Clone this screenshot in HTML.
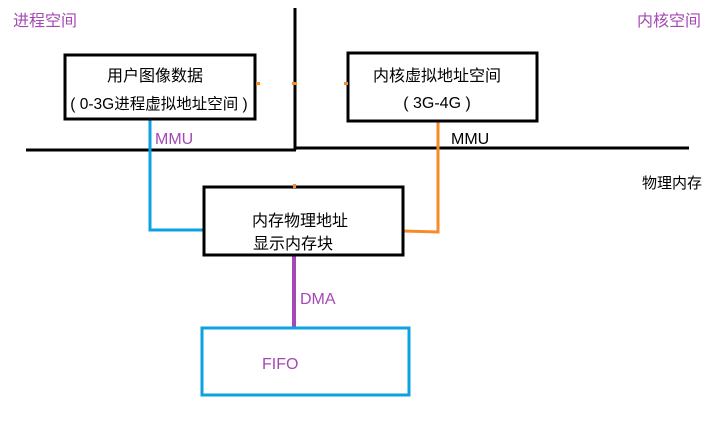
<!DOCTYPE html>
<html><head><meta charset="utf-8"><style>
body{margin:0;background:#fff;}
svg text{font-family:"Liberation Sans","Noto Sans CJK SC",sans-serif;}
</style></head><body>
<svg width="720" height="432" xmlns="http://www.w3.org/2000/svg">
<rect width="720" height="432" fill="#fff"/>
<g font-size="16" fill="#a548b5">
<text x="13" y="26">进程空间</text>
<text x="637" y="26">内核空间</text>
<text x="155" y="144">MMU</text>
<text x="300" y="304">DMA</text>
<text x="262" y="369">FIFO</text>
</g>
<text x="642" y="188" font-size="15" fill="#000">物理内存</text>
<text x="451" y="144" font-size="16" fill="#000">MMU</text>
<!-- lines -->
<line x1="295" y1="8" x2="295" y2="150" stroke="#000" stroke-width="3"/>
<line x1="26" y1="150" x2="296" y2="150" stroke="#000" stroke-width="3"/>
<line x1="294" y1="148" x2="689" y2="148" stroke="#000" stroke-width="3"/>
<!-- connectors -->
<polyline points="150,120 150,230 204,230" fill="none" stroke="#0ea0e0" stroke-width="3"/>
<polyline points="438,122 438,232 403,231" fill="none" stroke="#f98a2a" stroke-width="3"/>
<line x1="294" y1="256" x2="294" y2="327" stroke="#a548b5" stroke-width="4"/>
<!-- boxes -->
<rect x="65" y="55" width="190" height="64" fill="none" stroke="#000" stroke-width="3"/>
<rect x="348" y="53" width="189" height="68" fill="none" stroke="#000" stroke-width="3"/>
<rect x="204" y="187" width="199" height="68" fill="none" stroke="#000" stroke-width="3"/>
<rect x="202" y="328" width="207" height="67" fill="none" stroke="#0ea0e0" stroke-width="3"/>
<!-- orange ticks -->
<g fill="#f98a2a">
<rect x="256" y="82" width="4" height="3"/>
<rect x="292" y="82" width="5" height="3"/>
<rect x="344" y="82" width="4" height="3"/>
<rect x="293" y="184" width="3" height="4"/>
</g>
<g font-size="16" fill="#000" text-anchor="middle">
<text x="155" y="81">用户图像数据</text>
<text x="159" y="109" font-size="15.5">( 0-3G进程虚拟地址空间 )</text>
<text x="437" y="81">内核虚拟地址空间</text>
<text x="437" y="108">( 3G-4G )</text>
<text x="300" y="226">内存物理地址</text>
<text x="293" y="249">显示内存块</text>
</g>
</svg>
</body></html>
